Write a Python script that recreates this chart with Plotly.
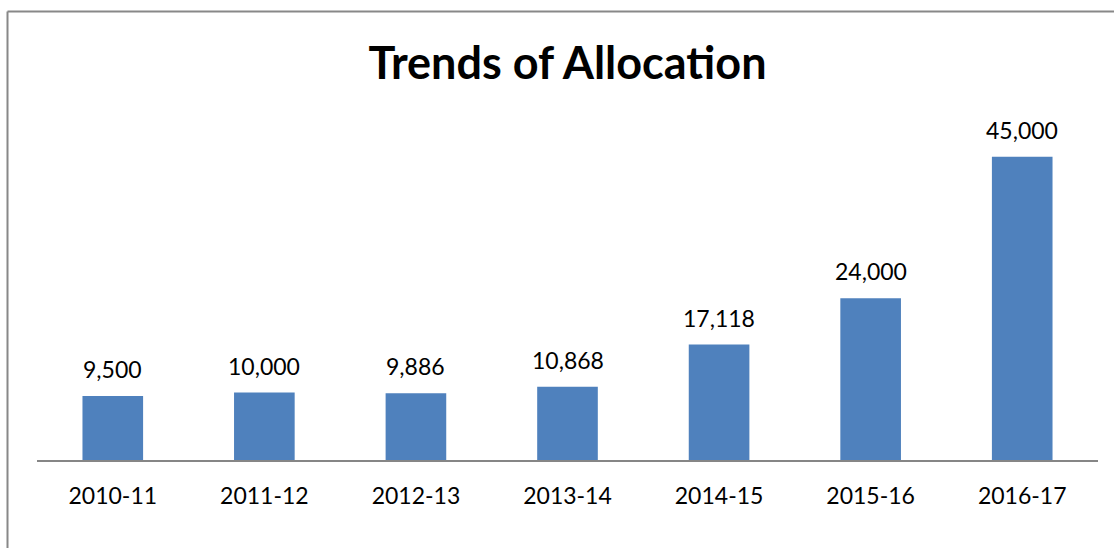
import plotly.graph_objects as go

years = ["2010-11", "2011-12", "2012-13", "2013-14", "2014-15", "2015-16", "2016-17"]
allocation = [9500, 10000, 9886, 10868, 17118, 24000, 45000]
title_text = "Trends of Allocation"

W, H = 1114, 548
ml, mr, mt, mb = 37, 16, 123, 88
pw = W - ml - mr
ph = H - mt - mb

fig = go.Figure()
fig.add_trace(go.Bar(
    x=years, y=allocation,
    marker=dict(color="#4F81BD", line=dict(width=0)),
    hoverinfo="x+y",
))

for yr, v in zip(years, allocation):
    fig.add_annotation(
        x=yr, y=v, text=f"{v:,}", showarrow=False,
        yanchor="middle", yshift=27,
        font=dict(family="Lato", size=23, color="#000000"),
    )

# chart border (top and left visible in the crop)
bx = (7.5 - ml) / pw
by = (H - mb - 11.5) / ph
fig.add_shape(type="line", xref="paper", yref="paper", x0=bx, x1=(W + 5 - ml) / pw, y0=by, y1=by,
              line=dict(color="#888888", width=2))
fig.add_shape(type="line", xref="paper", yref="paper", x0=bx, x1=bx, y0=by, y1=(-mb - 5) / ph,
              line=dict(color="#888888", width=2))

fig.update_layout(
    width=W, height=H,
    margin=dict(l=ml, r=mr, t=mt, b=mb),
    paper_bgcolor="white", plot_bgcolor="white",
    bargap=0.6,
    showlegend=False,
    title=dict(text=f"<b>{title_text}</b>", x=0.5, xref="paper", xanchor="center",
               y=1 - 63 / H, yanchor="middle",
               font=dict(family="Lato", size=45, color="#000000")),
    xaxis=dict(type="category", showline=True, linecolor="#868686", linewidth=2, ticks="",
               tickfont=dict(family="Lato", size=23, color="#000000"),
               ticklabelstandoff=14, showgrid=False, zeroline=False),
    yaxis=dict(range=[0, 50000], visible=False, showgrid=False, zeroline=False),
)

fig.write_html("out.html",
               config={"displayModeBar": False},
               post_script="document.body.style.margin='0';document.body.style.overflow='hidden';")
